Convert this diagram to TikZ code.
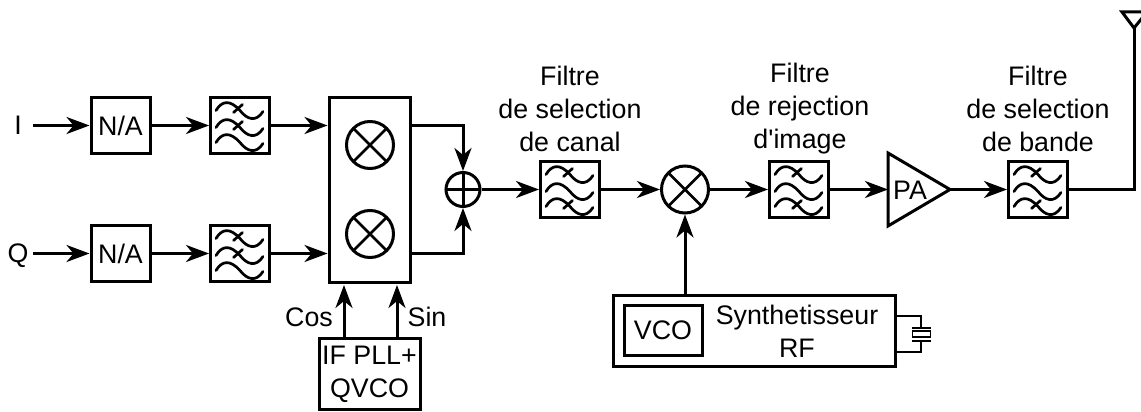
\documentclass[tikz,border=0pt]{standalone}
\usepackage{fontspec}
\setmainfont{Liberation Sans}
\newfontfamily\straightfont{Liberation Sans}
\usetikzlibrary{arrows.meta}
\tikzset{
  x=1pt,y=-1pt,
  lbl/.style={inner sep=0pt,align=center,font=\fontsize{26.8}{33}\selectfont},
  box/.style={draw,line width=3pt,fill=white,inner sep=0pt,align=center,font=\fontsize{26.8}{33}\selectfont},
  blockna/.style={box,minimum width=59pt,minimum height=56pt},
  filterbox/.style={box,minimum width=59pt,minimum height=56pt},
  mixer/.style={circle,draw,line width=3pt,minimum size=47pt,inner sep=0pt,fill=white,
    path picture={\draw[line width=2.6pt] (path picture bounding box.center) +(-30,-30) -- +(30,30) +(-30,30) -- +(30,-30);}},
  summer/.style={circle,draw,line width=3pt,minimum size=34pt,inner sep=0pt,fill=white,
    path picture={\draw[line width=3pt] (path picture bounding box.center) +(-30,0) -- +(30,0) +(0,-30) -- +(0,30);}},
  conn/.style={line width=3pt},
  arr/.style={line width=3pt,-{Stealth[length=23pt,width=17pt,inset=7pt]}},
  thinline/.style={line width=1.7pt},
  wavepen/.style={line width=2.7pt,line cap=round},
  wave/.pic={\draw[wavepen] (-24,-15) .. controls (-18,-25) and (-10,-26) .. (0,-15) .. controls (7,-6) and (16,-3) .. (23,-14);},
  tick/.pic={\draw[wavepen] (-6.5,-13) -- (2.5,-21);},
  filterTM/.pic={\pic at (0,0) {wave};\pic at (0,17) {wave};\pic at (0,32) {wave};\pic at (0,0) {tick};\pic at (0,17) {tick};},
  filterTB/.pic={\pic at (0,0) {wave};\pic at (0,17) {wave};\pic at (0,32) {wave};\pic at (0,0) {tick};\pic at (0,32) {tick};},
}
\begin{document}
\begin{tikzpicture}
\clip (0,0) rectangle (1141,412);
\fill[white] (0,0) rectangle (1141,412);
% inputs
\node[lbl,minimum width=30pt,text height=18.6pt,text depth=0pt] (i) at (18,125.5) {I};
\node[lbl,minimum width=30pt,text height=18.6pt,text depth=0pt] (q) at (18,253.5) {Q};
\node[blockna] (na1) at (120.5,125.5) {N/A};
\node[blockna] (na2) at (120.5,253.5) {N/A};
\node[filterbox] (f1) at (240,125.5) {};
\node[filterbox] (f2) at (240,253.5) {};
\pic at (f1.center) {filterTM};
\pic at (f2.center) {filterTM};
% quadrature mixer
\node[box,minimum width=81pt,minimum height=185pt] (iq) at (369.5,190) {};
\node[mixer] (m1) at (370,145) {};
\node[mixer] (m2) at (370,234) {};
\node[summer] (sum) at (463,189.5) {};
\coordinate (c1) at (iq.east |- f1);
\coordinate (c2) at (iq.east |- f2);
% IF PLL
\node[box,minimum width=101pt,minimum height=71pt] (pll) at (369.5,374) {IF PLL+\\QVCO};
\node[lbl] (cos) at (309,317) {Cos};
\node[lbl] (sin) at (427,317) {Sin};
\coordinate (pc) at (344,337);
\coordinate (ps) at (397,337);
\coordinate (ic) at (344,285);
\coordinate (is) at (397,285);
% main chain
\node[filterbox] (f3) at (570,189.5) {};
\pic at (f3.center) {filterTB};
\node[mixer] (m3) at (685,189.5) {};
\node[filterbox] (f4) at (799,189.5) {};
\pic at (f4.center) {filterTB};
\node[filterbox] (f5) at (1038,189.5) {};
\pic at (f5.center) {filterTB};
% PA
\coordinate (pal) at (888,189.5);
\coordinate (pat) at (888,153);
\coordinate (pab) at (888,226);
\coordinate (par) at (950,189.5);
\draw[line width=3pt,line join=miter] (pat) -- (par) -- (pab) -- cycle;
\node[lbl] (pa) at (910,190) {PA};
% antenna
\coordinate (antb) at (1134,28);
\coordinate (antl) at (1122,12);
\coordinate (antr) at (1147,12);
\draw[line width=3pt] (antl) -- (antr) -- (antb) -- cycle;
% synth
\node[box,minimum width=282pt,minimum height=71pt] (syn) at (754,330.5) {};
\node[box,minimum width=78pt,minimum height=50pt] (vco) at (663,330) {VCO};
\node[lbl] (syt) at (797,331) {Synthetisseur\\RF};
% crystal
\node[draw,thinline,minimum width=18pt,minimum height=6pt,inner sep=0pt] (xt) at (921.5,334) {};
\coordinate (xtop1) at (912,328);
\coordinate (xtop2) at (931,328);
\coordinate (xbot1) at (912,341);
\coordinate (xbot2) at (931,341);
\coordinate (xa) at (921,328);
\coordinate (xb) at (921,341);
\coordinate (sa) at (896,316);
\coordinate (sb) at (896,352);
\draw[thinline] (xtop1) -- (xtop2);
\draw[thinline] (xbot1) -- (xbot2);
\draw[thinline] (sa) -| (xa);
\draw[thinline] (sb) -| (xb);
% labels
\node[lbl] (t1) at (570,109) {Filtre\\de selection\\de canal};
\node[lbl] (t2) at (800,109) {Filtre\\de rejection\\{\straightfont d'image}};
\node[lbl] (t3) at (1038,109) {Filtre\\de selection\\de bande};
% connectors
\draw[arr] (i) -- (na1);
\draw[arr] (q) -- (na2);
\draw[arr] (na1) -- (f1);
\draw[arr] (na2) -- (f2);
\draw[arr] (f1) -- (f1 -| iq.west);
\draw[arr] (f2) -- (f2 -| iq.west);
\draw[arr] (c1) -| (sum);
\draw[arr] (c2) -| (sum);
\draw[arr] (sum) -- (f3);
\draw[arr] (f3) -- (m3);
\draw[arr] (m3) -- (f4);
\draw[arr] (f4.east) -- (pal);
\draw[arr] (par) -- (f5);
\draw[conn,line join=miter] (f5.east) -| (antb);
\draw[arr] (syn.north -| m3) -- (m3);
\draw[arr] (pc) -- (ic);
\draw[arr] (ps) -- (is);
\end{tikzpicture}
\end{document}
